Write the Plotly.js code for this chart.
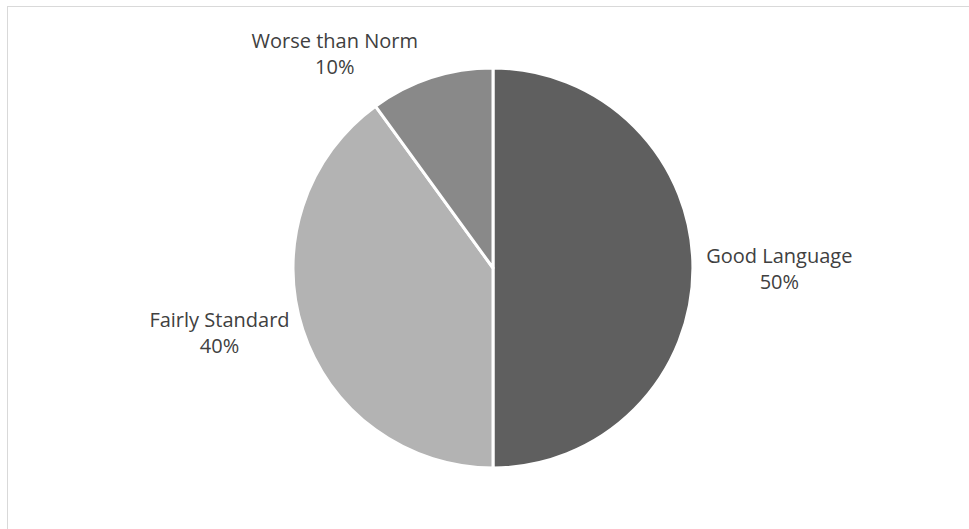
<!DOCTYPE html>
<html><head><meta charset="utf-8">
<script src="https://cdn.plot.ly/plotly-3.0.1.min.js"></script>
<style>
html,body{margin:0;padding:0;background:#fff;}
#wrap{position:relative;width:969px;height:529px;overflow:hidden;}
#frame{position:absolute;left:7px;top:6px;width:980px;height:540px;border-top:1px solid #d9d9d9;border-left:1px solid #d9d9d9;pointer-events:none;}
#chart{position:absolute;left:0;top:0;width:969px;height:529px;}
</style></head>
<body>
<div id="wrap"><div id="chart"></div><div id="frame"></div></div>
<script>
const categories = ["Good Language", "Fairly Standard", "Worse than Norm"];
const shares = [50, 40, 10];
const sliceColors = ["#5f5f5f", "#b3b3b3", "#898989"];

Plotly.newPlot("chart", [{
  type: "pie",
  labels: categories,
  values: shares,
  sort: false,
  direction: "clockwise",
  rotation: 0,
  marker: {colors: sliceColors, line: {color: "#ffffff", width: 3}},
  textinfo: "label+percent",
  texttemplate: "%{label}<br>%{percent:.0%}",
  textposition: "outside",
  outsidetextfont: {family: "Open Sans, sans-serif", size: 20, color: "#404040"},
  automargin: false,
  showlegend: false,
  hoverinfo: "none"
}], {
  width: 969, height: 529,
  margin: {l: 117, r: 100, t: 68, b: 61},
  paper_bgcolor: "#ffffff",
  showlegend: false
}, {staticPlot: true});
</script>
</body></html>
